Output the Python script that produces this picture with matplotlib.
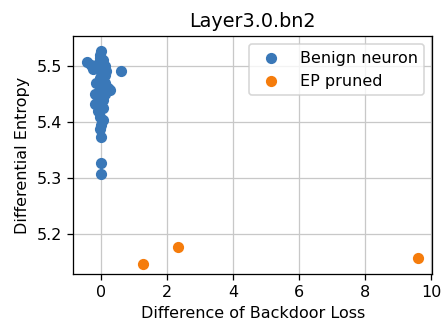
import numpy as np
import matplotlib
matplotlib.use('Agg')
import matplotlib.pyplot as plt

benign_x = [0.0, -0.05, 0.05, -0.42, -0.3, -0.2, -0.1, 0.1, 0.15, 0.6, -0.25,
            0.0, -0.05, 0.05, 0.1, 0.27, 0.2, -0.05, 0.0, 0.1, -0.2, -0.1,
            0.05, -0.2, 0.0, -0.1, -0.05, 0.05, 0.0, -0.05, 0.0, -0.02, -0.02,
            0.1, -0.15, 0.05, 0.0, -0.03]
benign_y = [5.528, 5.52, 5.512, 5.507, 5.503, 5.5, 5.505, 5.5, 5.492, 5.491, 5.496,
            5.49, 5.48, 5.475, 5.47, 5.458, 5.462, 5.465, 5.455, 5.45, 5.45, 5.445,
            5.44, 5.432, 5.435, 5.42, 5.41, 5.405, 5.395, 5.388, 5.373, 5.327, 5.307,
            5.485, 5.47, 5.425, 5.5, 5.515]

pruned_x = [1.27, 2.33, 9.6]
pruned_y = [5.146, 5.177, 5.158]

fig, ax = plt.subplots(figsize=(441 / 115, 323 / 115), dpi=115)
ax.scatter(benign_x, benign_y, color='#3a78b8', label='Benign neuron', zorder=3)
ax.scatter(pruned_x, pruned_y, color='#f57c0c', label='EP pruned', zorder=3)
ax.set_xlim(-0.85, 10.03)
ax.set_ylim(5.129, 5.554)
ax.set_xticks([0, 2, 4, 6, 8, 10])
ax.set_yticks([5.2, 5.3, 5.4, 5.5])
ax.grid(True, color='#c8c8c8')
ax.set_axisbelow(True)
ax.set_title('Layer3.0.bn2')
ax.set_xlabel('Difference of Backdoor Loss')
ax.set_ylabel('Differential Entropy')
ax.legend(loc='upper right')
fig.subplots_adjust(left=0.166, right=0.98, top=0.888, bottom=0.152)
fig.savefig('out.png')
